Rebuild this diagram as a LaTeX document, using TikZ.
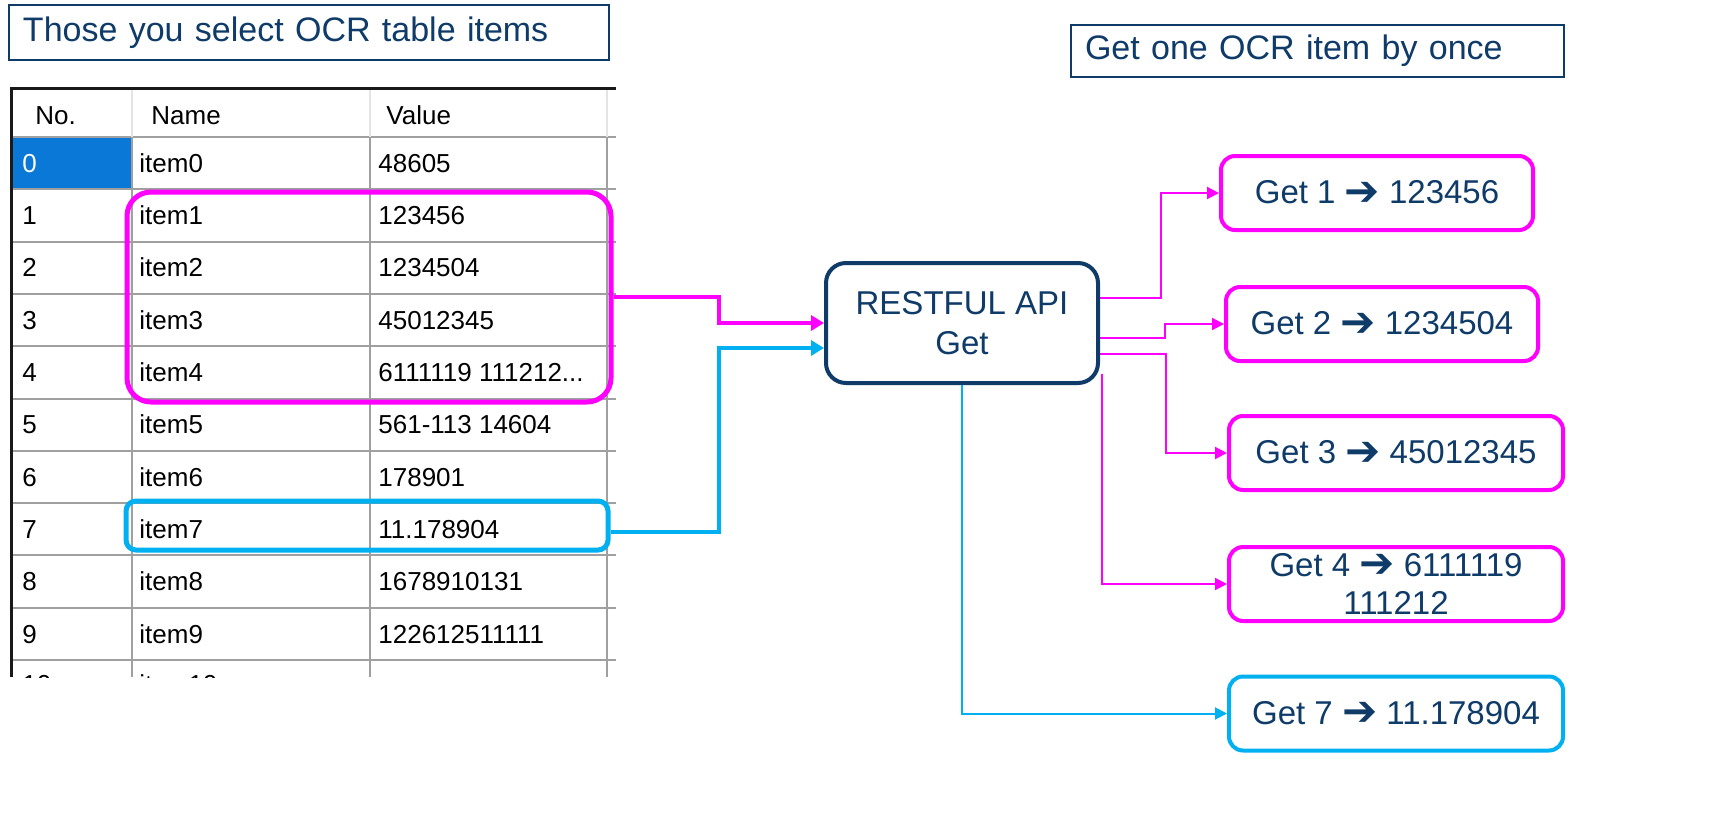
\documentclass[tikz,border=0pt]{standalone}
\usepackage{fontspec}
\setmainfont{Liberation Sans}
\newfontfamily\arrowfont{DejaVu Sans}
\usetikzlibrary{arrows.meta,calc}
\definecolor{navy}{HTML}{0F3B69}
\definecolor{mag}{HTML}{FF00FF}
\definecolor{cyn}{HTML}{00B0F0}
\definecolor{gridgray}{HTML}{A0A0A0}
\definecolor{headgray}{HTML}{E4E4E4}
\definecolor{selblue}{HTML}{0A78D7}
\newcommand{\harr}{\raisebox{-0.6pt}{\fontsize{21}{20}\selectfont\arrowfont\bfseries ➔}}
\newcommand{\valfour}{6111119 111212...}
\begin{document}
\begin{tikzpicture}[x=0.5pt,y=-0.5pt,
 titlebox/.style={draw=navy, line width=1pt, text=navy, font=\fontsize{17}{20}\selectfont, align=left, inner xsep=7pt, inner ysep=0pt, anchor=west},
 apibox/.style={draw=navy, line width=2pt, rounded corners=10pt, text=navy, font=\fontsize{16.5}{20}\selectfont, align=center, minimum width=136pt, minimum height=60pt},
 getbox/.style={draw=mag, line width=2pt, rounded corners=7pt, text=navy, font=\fontsize{16.5}{19}\selectfont, align=center, minimum height=37pt, inner sep=0pt},
 selbox/.style={draw=mag, line width=2.5pt, rounded corners=12pt, inner sep=0pt},
 cell/.style={anchor=west, inner sep=0pt, font=\fontsize{13}{15}\selectfont, text height=9.3pt, text depth=0pt},
 thinarr/.style={line width=1pt, -{Triangle[length=6pt,width=6pt]}},
 thickarr/.style={line width=2pt, -{Triangle[length=6.5pt,width=7.5pt]}},
 gridline/.style={draw=gridgray, line width=1pt},
]
\useasboundingbox (0,0) rectangle (1725,831);
\fill[white] (0,0) rectangle (1725,831);

% ---- table screenshot ----
\begin{scope}
\clip (10,87) rectangle (616,677);
\fill[selblue] (12,138) rectangle (131,189);
\foreach \k in {0,...,10} \draw[gridline] (10,{137+52.3*\k}) -- (616,{137+52.3*\k});
\foreach \x in {132,370,607} \draw[gridline] (\x,137) -- (\x,677);
\foreach \x in {132,370,607} \draw[headgray, line width=1pt] (\x,90) -- (\x,137);
\draw[black!90, line width=1.5pt] (11,677) -- (11,88) -- (616,88);
\node[cell] (hno) at (35,115) {No.};
\node[cell] (hname) at (151,115) {Name};
\node[cell] (hval) at (386,115) {Value};
\node[cell, text=white] (no0) at (22,163) {0};
\foreach \k/\v in {1/123456,2/1234504,3/45012345,4/\valfour,5/561-113 14604,6/178901,7/11.178904,8/1678910131,9/122612511111}{
  \node[cell] (no\k) at (22,{163+52.3*\k}) {\k};
  \node[cell] (val\k) at (378,{163+52.3*\k}) {\v};
}
\foreach \k in {0,1,2,3,4,5,6,7,8,9}{
  \node[cell] (name\k) at (139,{163+52.3*\k}) {item\k};
}
\node[cell] (val0) at (378,163) {48605};
\node[cell] (no10) at (22,684) {10};
\node[cell] (name10) at (139,684) {item10};
\end{scope}

% ---- selection frames ----
\node[selbox, minimum width=242pt, minimum height=105pt] (sel1) at (369,297) {};
\node[selbox, draw=cyn, rounded corners=5pt, minimum width=241pt, minimum height=24.5pt] (sel7) at (367,525.5) {};

% ---- titles ----
\node[titlebox, text width=286pt, minimum height=27.5pt] (t1) at (8,32.5) {Those you select OCR table items};
\node[titlebox, text width=232.5pt, minimum height=26pt] (t2) at (1070,51) {Get one OCR item by once};

% ---- API box ----
\node[apibox] (api) at (962,323) {RESTFUL API\\Get};

% ---- result boxes ----
\node[getbox, minimum width=156pt] (b1) at (1377,193) {Get 1 \harr{} 123456};
\node[getbox, minimum width=156pt] (b2) at (1382,324) {Get 2 \harr{} 1234504};
\node[getbox, minimum width=167pt] (b3) at (1396,453) {Get 3 \harr{} 45012345};
\node[getbox, minimum width=167pt] (b4) at (1396,584) {Get 4 \harr{} 6111119\\111212};
\node[getbox, draw=cyn, minimum width=167pt] (b7) at (1396,713.5) {Get 7 \harr{} 11.178904};

% ---- connectors left ----
\coordinate (mx) at (719,0);
\draw[thickarr, mag] (sel1.east) -- (sel1.east -| mx) |- (api.west);
\coordinate (c7) at ($(sel7.east)+(0,6)$);
\draw[thickarr, cyn] (c7) -- (c7 -| mx) |- ($(api.west)+(0,25)$);

% ---- connectors right ----
\draw[thinarr, mag] ($(api.east)+(0,-25)$) -- ++(61,0) |- (b1.west);
\draw[thinarr, mag] ($(api.east)+(0,15)$) -- ++(65,0) |- (b2.west);
\draw[thinarr, mag] ($(api.east)+(0,31)$) -- ++(66,0) |- (b3.west);
\draw[thinarr, mag] ($(api.south east)+(2,-11)$) |- (b4.west);
\draw[thinarr, cyn] (api.south) |- (b7.west);
\end{tikzpicture}
\end{document}
